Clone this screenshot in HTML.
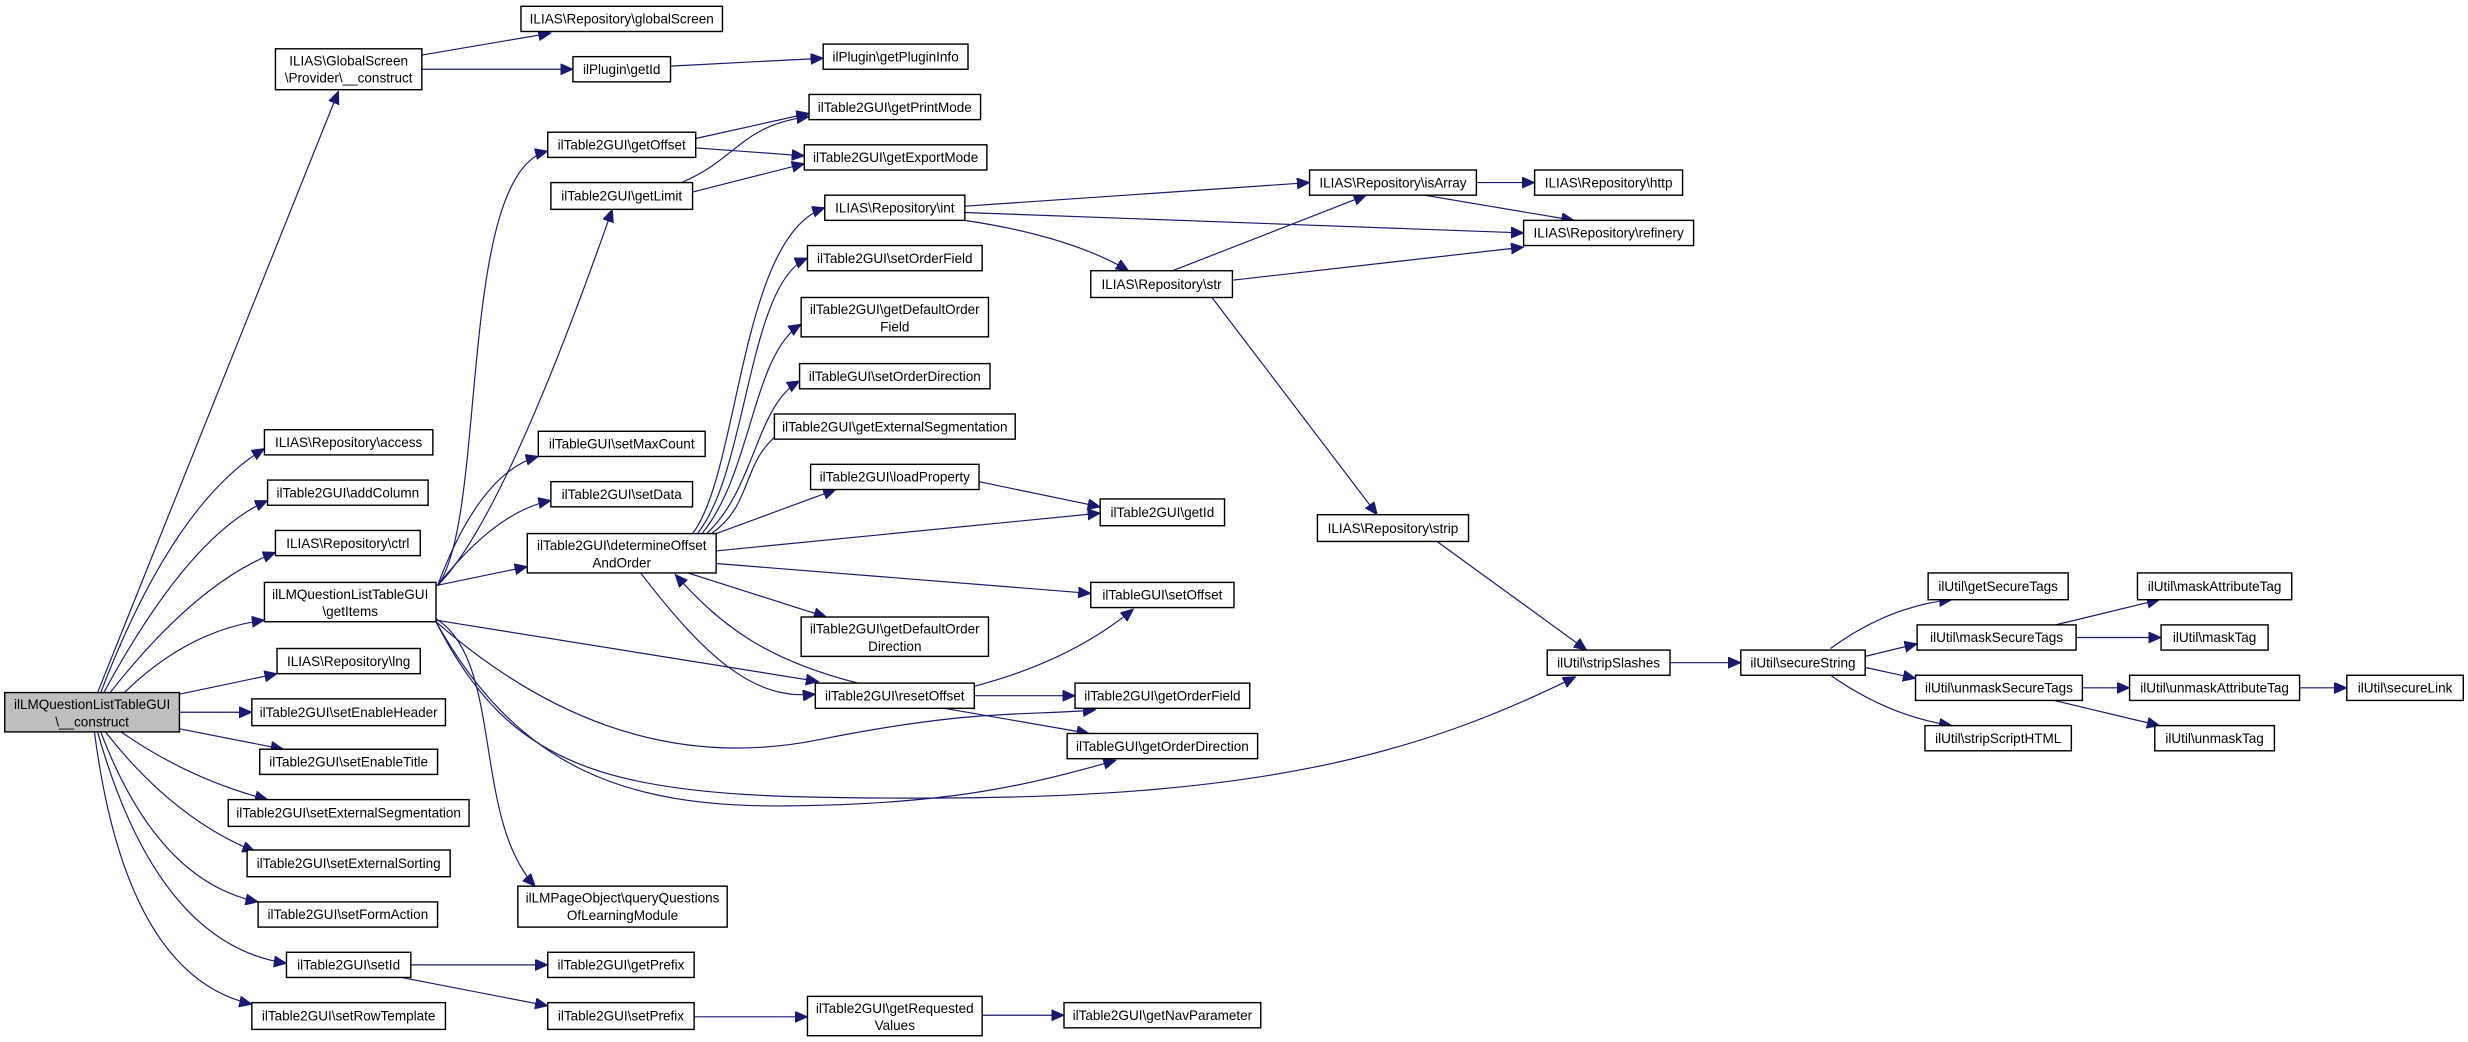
<!DOCTYPE html>
<html><head><meta charset="utf-8"><style>
html,body{margin:0;padding:0;background:#fff;}
svg{display:block;}
text{font-family:"Liberation Sans",sans-serif;font-size:8.6px;fill:#000;text-anchor:middle;}
.n{fill:#fff;stroke:#000;stroke-width:0.9;}
.e{fill:none;stroke:#191970;stroke-width:0.75;}
</style></head><body>
<svg width="2468" height="1042" viewBox="0 0 1568 662" preserveAspectRatio="none" xmlns="http://www.w3.org/2000/svg">
<defs><marker id="a" markerUnits="userSpaceOnUse" markerWidth="10" markerHeight="8" refX="8" refY="3.5" orient="auto"><path d="M0,0 L8,3.5 L0,7 z" fill="#191970" stroke="#191970" stroke-width="0.6"/></marker></defs>
<g marker-end="url(#a)" class="e">
<path class="e" d="M62,440 L215,58"/>
<path class="e" d="M64,440 Q110,320 168,285"/>
<path class="e" d="M66,440 Q120,340 170,318"/>
<path class="e" d="M70,440 Q125,370 175,351"/>
<path class="e" d="M79,440 Q120,400 168,394"/>
<path class="e" d="M114,441 L176,428"/>
<path class="e" d="M114,452.5 L160,452.5"/>
<path class="e" d="M114,463 L180,476"/>
<path class="e" d="M77,465 Q120,495 170,508"/>
<path class="e" d="M67,465 Q110,520 162,541"/>
<path class="e" d="M64,465 Q100,560 164,573"/>
<path class="e" d="M62,465 Q100,600 182,612"/>
<path class="e" d="M60,465 Q80,620 160,638"/>
<path class="e" d="M277,372 L335,360"/>
<path class="e" d="M278,372 C310,330 290,110 348,96"/>
<path class="e" d="M278,372 Q320,330 389,133"/>
<path class="e" d="M278,372 Q305,300 342,290"/>
<path class="e" d="M278,372 Q315,325 350,318"/>
<path class="e" d="M277,393 C320,420 300,520 340,563"/>
<path class="e" d="M277,394 L520,433"/>
<path class="e" d="M277,395 C340,450 420,490 520,470 S650,455 696,451"/>
<path class="e" d="M277,395 C330,490 400,513 500,512 S650,500 709,483"/>
<path class="e" d="M277,395 C330,500 400,508 600,507 C800,506 900,480 1001,430"/>
<path class="e" d="M440,339 C470,300 470,150 524,132"/>
<path class="e" d="M443,339 C475,300 475,180 513,164"/>
<path class="e" d="M446,339 C478,300 478,225 509,206"/>
<path class="e" d="M449,339 C480,310 480,258 508,242"/>
<path class="e" d="M452,339 C480,320 470,290 500,272"/>
<path class="e" d="M455,339 L531,311"/>
<path class="e" d="M455,350 L699,326"/>
<path class="e" d="M455,358 L693,377"/>
<path class="e" d="M437,364 L525,392"/>
<path class="e" d="M407,364 C450,420 480,445 518,441"/>
<path class="e" d="M545,434 C490,420 460,400 429,365"/>
<path class="e" d="M622,306 L699,322"/>
<path class="e" d="M619,436 Q680,420 720,387"/>
<path class="e" d="M619,442 L683,442"/>
<path class="e" d="M600,450 L692,466"/>
<path class="e" d="M442,88 L514,72"/>
<path class="e" d="M442,94 L511,99"/>
<path class="e" d="M440,122 L511,104"/>
<path class="e" d="M433,116 C470,100 470,80 514,74"/>
<path class="e" d="M268,35 L350,21"/>
<path class="e" d="M268,44 L364,44"/>
<path class="e" d="M426,42 L523,37"/>
<path class="e" d="M261,613 L348,613"/>
<path class="e" d="M255,621 L348,639"/>
<path class="e" d="M441,646 L513,646"/>
<path class="e" d="M624,645 L676,645"/>
<path class="e" d="M613,131 L832,116"/>
<path class="e" d="M613,135 L968,148"/>
<path class="e" d="M613,140 Q680,150 717,172"/>
<path class="e" d="M745,172 L868,124"/>
<path class="e" d="M783,178 L968,157"/>
<path class="e" d="M770,189 L875,327"/>
<path class="e" d="M938,116 L975,116"/>
<path class="e" d="M905,124 L1000,140"/>
<path class="e" d="M913,344 L1008,413"/>
<path class="e" d="M1061,421 L1106,421"/>
<path class="e" d="M1163,412 Q1200,385 1240,381"/>
<path class="e" d="M1185,417 L1218,409"/>
<path class="e" d="M1185,424 L1217,431"/>
<path class="e" d="M1163,429 Q1200,455 1240,461"/>
<path class="e" d="M1306,397 L1372,381"/>
<path class="e" d="M1319,405 L1373,405"/>
<path class="e" d="M1323,437 L1353,437"/>
<path class="e" d="M1305,445 L1372,461"/>
<path class="e" d="M1461,437 L1491,437"/>
</g>

<!-- nodes -->
<rect x="3" y="440" width="111" height="25" fill="#bfbfbf" stroke="#000" stroke-width="0.9"/>
<text x="58.5" y="450.5">ilLMQuestionListTableGUI</text><text x="58.5" y="461.5">\__construct</text>

<rect class="n" x="175" y="31" width="93" height="26"/><text x="221.5" y="41.5">ILIAS\GlobalScreen</text><text x="221.5" y="52.5">\Provider\__construct</text>
<rect class="n" x="331" y="4" width="128" height="16"/><text x="395" y="15">ILIAS\Repository\globalScreen</text>
<rect class="n" x="364" y="36" width="62" height="16"/><text x="395" y="47">ilPlugin\getId</text>
<rect class="n" x="523" y="28" width="92" height="16"/><text x="569" y="39">ilPlugin\getPluginInfo</text>
<rect class="n" x="514" y="60" width="109" height="16"/><text x="568.5" y="71">ilTable2GUI\getPrintMode</text>
<rect class="n" x="348" y="84" width="94" height="16"/><text x="395" y="95">ilTable2GUI\getOffset</text>
<rect class="n" x="511" y="92" width="116" height="16"/><text x="569" y="103">ilTable2GUI\getExportMode</text>
<rect class="n" x="350" y="116" width="90" height="17"/><text x="395" y="127.5">ilTable2GUI\getLimit</text>
<rect class="n" x="524" y="124" width="89" height="16"/><text x="568.5" y="135">ILIAS\Repository\int</text>
<rect class="n" x="513" y="156" width="111" height="16"/><text x="568.5" y="167">ilTable2GUI\setOrderField</text>
<rect class="n" x="509" y="189" width="119" height="25"/><text x="568.5" y="199.5">ilTable2GUI\getDefaultOrder</text><text x="568.5" y="210.5">Field</text>
<rect class="n" x="508" y="231" width="121" height="16"/><text x="568.5" y="242">ilTableGUI\setOrderDirection</text>
<rect class="n" x="492" y="263" width="153" height="16"/><text x="568.5" y="274">ilTable2GUI\getExternalSegmentation</text>
<rect class="n" x="515" y="295" width="107" height="16"/><text x="568.5" y="306">ilTable2GUI\loadProperty</text>
<rect class="n" x="168" y="273" width="107" height="16"/><text x="221.5" y="284">ILIAS\Repository\access</text>
<rect class="n" x="342" y="274" width="106" height="16"/><text x="395" y="285">ilTableGUI\setMaxCount</text>
<rect class="n" x="170" y="305" width="102" height="16"/><text x="221" y="316">ilTable2GUI\addColumn</text>
<rect class="n" x="350" y="306" width="90" height="16"/><text x="395" y="317">ilTable2GUI\setData</text>
<rect class="n" x="175" y="337" width="92" height="16"/><text x="221" y="348">ILIAS\Repository\ctrl</text>
<rect class="n" x="335" y="339" width="120" height="25"/><text x="395" y="349.5">ilTable2GUI\determineOffset</text><text x="395" y="360.5">AndOrder</text>
<rect class="n" x="168" y="370" width="109" height="25"/><text x="222.5" y="380.5">ilLMQuestionListTableGUI</text><text x="222.5" y="391.5">\getItems</text>
<rect class="n" x="509" y="392" width="119" height="25"/><text x="568.5" y="402.5">ilTable2GUI\getDefaultOrder</text><text x="568.5" y="413.5">Direction</text>
<rect class="n" x="176" y="412" width="91" height="16"/><text x="221.5" y="423">ILIAS\Repository\lng</text>
<rect class="n" x="518" y="434" width="101" height="16"/><text x="568.5" y="445">ilTable2GUI\resetOffset</text>
<rect class="n" x="160" y="444" width="123" height="17"/><text x="221.5" y="455.5">ilTable2GUI\setEnableHeader</text>
<rect class="n" x="165" y="476" width="113" height="16"/><text x="221.5" y="487">ilTable2GUI\setEnableTitle</text>
<rect class="n" x="145" y="508" width="153" height="17"/><text x="221.5" y="519.5">ilTable2GUI\setExternalSegmentation</text>
<rect class="n" x="157" y="540" width="129" height="17"/><text x="221.5" y="551.5">ilTable2GUI\setExternalSorting</text>
<rect class="n" x="164" y="573" width="114" height="16"/><text x="221" y="584">ilTable2GUI\setFormAction</text>
<rect class="n" x="329" y="563" width="133" height="26"/><text x="395.5" y="573.5">ilLMPageObject\queryQuestions</text><text x="395.5" y="584.5">OfLearningModule</text>
<rect class="n" x="182" y="605" width="79" height="16"/><text x="221.5" y="616">ilTable2GUI\setId</text>
<rect class="n" x="348" y="605" width="93" height="16"/><text x="394.5" y="616">ilTable2GUI\getPrefix</text>
<rect class="n" x="160" y="637" width="123" height="17"/><text x="221.5" y="648.5">ilTable2GUI\setRowTemplate</text>
<rect class="n" x="348" y="637" width="93" height="17"/><text x="394.5" y="648.5">ilTable2GUI\setPrefix</text>
<rect class="n" x="513" y="633" width="111" height="25"/><text x="568.5" y="643.5">ilTable2GUI\getRequested</text><text x="568.5" y="654.5">Values</text>
<rect class="n" x="676" y="637" width="125" height="16"/><text x="738.5" y="648">ilTable2GUI\getNavParameter</text>

<rect class="n" x="832" y="108" width="106" height="16"/><text x="885" y="119">ILIAS\Repository\isArray</text>
<rect class="n" x="975" y="108" width="94" height="16"/><text x="1022" y="119">ILIAS\Repository\http</text>
<rect class="n" x="968" y="140" width="108" height="16"/><text x="1022" y="151">ILIAS\Repository\refinery</text>
<rect class="n" x="693" y="172" width="90" height="17"/><text x="738" y="183.5">ILIAS\Repository\str</text>
<rect class="n" x="699" y="317" width="79" height="17"/><text x="738.5" y="328.5">ilTable2GUI\getId</text>
<rect class="n" x="837" y="327" width="96" height="17"/><text x="885" y="338.5">ILIAS\Repository\strip</text>
<rect class="n" x="693" y="370" width="91" height="16"/><text x="738.5" y="381">ilTableGUI\setOffset</text>
<rect class="n" x="683" y="434" width="111" height="16"/><text x="738.5" y="445">ilTable2GUI\getOrderField</text>
<rect class="n" x="678" y="466" width="121" height="16"/><text x="738.5" y="477">ilTableGUI\getOrderDirection</text>
<rect class="n" x="983" y="413" width="78" height="16"/><text x="1022" y="424">ilUtil\stripSlashes</text>
<rect class="n" x="1106" y="413" width="79" height="16"/><text x="1145.5" y="424">ilUtil\secureString</text>
<rect class="n" x="1225" y="364" width="89" height="17"/><text x="1269.5" y="375.5">ilUtil\getSecureTags</text>
<rect class="n" x="1218" y="397" width="101" height="16"/><text x="1268.5" y="408">ilUtil\maskSecureTags</text>
<rect class="n" x="1217" y="429" width="106" height="16"/><text x="1270" y="440">ilUtil\unmaskSecureTags</text>
<rect class="n" x="1223" y="461" width="93" height="16"/><text x="1269.5" y="472">ilUtil\stripScriptHTML</text>
<rect class="n" x="1358" y="364" width="98" height="17"/><text x="1407" y="375.5">ilUtil\maskAttributeTag</text>
<rect class="n" x="1373" y="397" width="68" height="16"/><text x="1407" y="408">ilUtil\maskTag</text>
<rect class="n" x="1353" y="429" width="108" height="16"/><text x="1407" y="440">ilUtil\unmaskAttributeTag</text>
<rect class="n" x="1369" y="461" width="76" height="16"/><text x="1407" y="472">ilUtil\unmaskTag</text>
<rect class="n" x="1491" y="429" width="74" height="16"/><text x="1528" y="440">ilUtil\secureLink</text>
</svg>
</body></html>
